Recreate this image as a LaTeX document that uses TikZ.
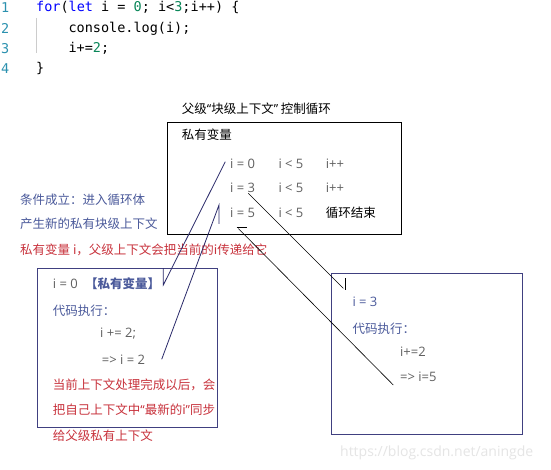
\documentclass[tikz,border=0pt]{standalone}
\usepackage{fontspec}
\setmainfont{Noto Sans CJK SC}
\newfontfamily\codefont{DejaVu Sans Mono}
\newfontfamily\latinfont{Open Sans}
\newcommand\qopen{{\latinfont “}}
\newcommand\qclose{{\latinfont ”}}
\definecolor{bluetxt}{HTML}{4B5A9B}
\definecolor{redtxt}{HTML}{C8323C}
\definecolor{graytxt}{HTML}{606060}
\definecolor{boxblue}{HTML}{404080}
\definecolor{lineblue}{HTML}{2A2A6A}
\definecolor{lnum}{HTML}{2B91AF}
\definecolor{kw}{HTML}{0000FF}
\definecolor{num}{HTML}{098658}
\definecolor{guidegray}{HTML}{CCCCCC}
\begin{document}
\begin{tikzpicture}[x=1pt,y=-1pt,
  txt/.style={anchor=west,inner sep=0pt,font=\fontsize{12.5}{14}\selectfont},
  ltxt/.style={anchor=west,inner sep=0pt,font=\latinfont\fontsize{13}{15}\selectfont},
  code/.style={anchor=west,inner sep=0pt,font=\codefont\fontsize{13.5}{15}\selectfont},
  lno/.style={code,text=lnum},
  bluebox/.style={draw=boxblue,line width=0.9pt,anchor=north west,inner sep=0pt},
  blueline/.style={draw=lineblue,line width=0.8pt},
  blackline/.style={draw=black,line width=0.6pt}]
\useasboundingbox (0,0) rectangle (551,470);
\fill[white] (0,0) rectangle (551,470);
% code
\node[lno] (n1) at (1,7.5) {1};
\node[lno] (n2) at (1,28.3) {2};
\node[lno] (n3) at (1,48.3) {3};
\node[lno] (n4) at (1,68.3) {4};
\draw[guidegray,line width=0.6pt] (36,18) -- (36,53);
\node[code] (c1) at (36,7.5) {\textcolor{kw}{for}(\textcolor{kw}{let} i = \textcolor{num}{0}; i<\textcolor{num}{3};i++) \{};
\node[code] (c2) at (68.3,28.3) {console.log(i);};
\node[code] (c3) at (68.3,48.3) {i+=\textcolor{num}{2};};
\node[code] (c4) at (36,68.3) {\}};
% parent box
\node[txt] (title) at (181.7,108.3) {父级\qopen 块级上下文\qclose\ 控制循环};
\node[draw=black,line width=1pt,anchor=north west,inner sep=0pt,minimum width=233.4pt,minimum height=111.7pt] (parent) at (167.3,122.3) {};
\node[txt] (priv) at (181.7,135) {私有变量};
\node[ltxt,text=graytxt] (r1a) at (230,163.3) {i = 0};
\node[ltxt,text=graytxt] (r1b) at (278.3,163.3) {i < 5};
\node[ltxt,text=graytxt] (r1c) at (325.7,163.3) {i++};
\node[ltxt,text=graytxt] (r2a) at (230,187.7) {i = 3};
\node[ltxt,text=graytxt] (r2b) at (278.3,187.7) {i < 5};
\node[ltxt,text=graytxt] (r2c) at (325.7,187.7) {i++};
\node[ltxt,text=graytxt] (r3a) at (230,212.3) {i = 5};
\node[ltxt,text=graytxt] (r3b) at (278.3,212.3) {i < 5};
\node[txt] (r3c) at (325.7,212.3) {循环结束};
% left notes
\node[txt,text=bluetxt] (t1) at (20,200) {条件成立：进入循环体};
\node[txt,text=bluetxt] (t2) at (20,223.3) {产生新的私有块级上下文};
\node[txt,text=redtxt] (t3) at (20,250) {私有变量 i，父级上下文会把当前的i传递给它};
% left box
\node[bluebox,minimum width=180pt,minimum height=158.4pt] (lbox) at (37.3,268.3) {};
\node[ltxt,text=graytxt] (l1) at (52.7,284) {i = 0};
\node[txt,text=bluetxt,font=\fontsize{12.5}{14}\selectfont\bfseries] (l1b) at (85,284) {【私有变量】};
\node[txt,text=bluetxt] (l2) at (52.7,310.7) {代码执行：};
\node[ltxt,text=graytxt] (l3) at (100,334) {i += 2;};
\node[ltxt,text=graytxt] (l4) at (101.7,359.3) {=> i = 2};
\node[txt,text=redtxt] (l5) at (52.7,384.5) {当前上下文处理完成以后，会};
\node[txt,text=redtxt] (l6) at (52.7,410) {把自己上下文中\qopen 最新的i\qclose 同步};
\node[txt,text=redtxt] (l7) at (52.7,436) {给父级私有上下文};
% right box
\node[bluebox,minimum width=191pt,minimum height=160.7pt] (rbox) at (330.7,273.3) {};
\node[ltxt,text=bluetxt] (q1) at (352.3,301.7) {i = 3};
\node[txt,text=bluetxt] (q2) at (352.3,328.3) {代码执行：};
\node[ltxt,text=graytxt] (q3) at (400,351.7) {i+=2};
\node[ltxt,text=graytxt] (q4) at (400,376.7) {=> i=5};
\node[ltxt,text=black!10,font=\latinfont\fontsize{14}{16}\selectfont] (wm) at (340,452.7) {https://blog.csdn.net/aningde};
% connector coordinates
\coordinate (a1s) at (225.3,161.7);
\coordinate (a1e) at (163.3,285);
\coordinate (a1t) at (163.3,268);
\coordinate (a2s) at (219,205);
\coordinate (a2t) at (219,224);
\coordinate (a2e) at (161.7,359.3);
\coordinate (a3s) at (248.3,193.3);
\coordinate (a3e) at (343.3,288.3);
\coordinate (a3t1) at (345.5,278);
\coordinate (a3t2) at (345.5,290);
\coordinate (a4s) at (238.3,228.5);
\coordinate (a4e) at (393.3,385);
\coordinate (a4t1) at (236.7,227.3);
\coordinate (a4t2) at (246.7,227.3);
% connectors
\draw[blueline] (a1s) -- (a1e) -- (a1t);
\draw[blueline] (a2t) -- (a2s) -- (a2e);
\draw[blackline] (a3s) -- (a3e);
\draw[blackline] (a3t1) -- (a3t2);
\draw[blackline] (a4t1) -- (a4t2);
\draw[blackline] (a4s) -- (a4e);
\end{tikzpicture}
\end{document}
